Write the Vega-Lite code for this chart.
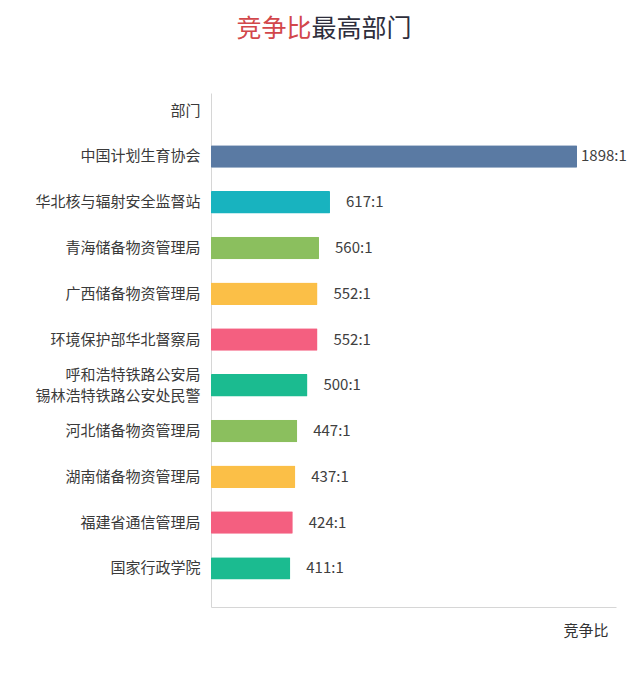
{
  "$schema": "https://vega.github.io/schema/vega-lite/v6.json",
  "autosize": {"type": "none"},
  "padding": {"left": 211, "top": 93, "right": 24, "bottom": 70},
  "width": 405,
  "height": 514,
  "background": "white",

  "data": {
    "values": [
      {"dept": "中国计划生育协会", "ratio": 1898},
      {"dept": "华北核与辐射安全监督站", "ratio": 617},
      {"dept": "青海储备物资管理局", "ratio": 560},
      {"dept": "广西储备物资管理局", "ratio": 552},
      {"dept": "环境保护部华北督察局", "ratio": 552},
      {"dept": "呼和浩特铁路公安局\n锡林浩特铁路公安处民警", "ratio": 500},
      {"dept": "河北储备物资管理局", "ratio": 447},
      {"dept": "湖南储备物资管理局", "ratio": 437},
      {"dept": "福建省通信管理局", "ratio": 424},
      {"dept": "国家行政学院", "ratio": 411}
    ]
  },

  "transform": [
    {"calculate": "datum.ratio + ':1'", "as": "label"}
  ],

  "encoding": {
    "y": {
      "field": "dept",
      "type": "nominal",
      "sort": null,
      "scale": {
        "domain": [
          "部门",
          "中国计划生育协会",
          "华北核与辐射安全监督站",
          "青海储备物资管理局",
          "广西储备物资管理局",
          "环境保护部华北督察局",
          "呼和浩特铁路公安局\n锡林浩特铁路公安处民警",
          "河北储备物资管理局",
          "湖南储备物资管理局",
          "福建省通信管理局",
          "国家行政学院"
        ],
        "paddingInner": 0.51,
        "paddingOuter": 0.37,
        "align": 0.19
      },
      "axis": {
        "title": null,
        "ticks": false,
        "labelExpr": "split(datum.label, '\\n')",
        "labelFont": "Noto Sans CJK SC",
        "labelFontSize": 15,
        "labelLineHeight": 21,
        "labelOffset": {
          "condition": {"test": "indexof(datum.value, '锡林') >= 0", "value": -10.5},
          "value": 0
        },
        "labelColor": "#3a3a3a",
        "labelPadding": 11,
        "domainColor": "#d6d6d6"
      }
    }
  },

  "layer": [
    {
      "mark": {"type": "bar", "cornerRadius": 1},
      "encoding": {
        "x": {
          "field": "ratio",
          "type": "quantitative",
          "scale": {"domain": [0, 2100], "nice": false},
          "axis": {
            "title": "竞争比",
            "titleFont": "Noto Sans CJK SC",
            "titleFontSize": 15,
            "titleFontWeight": "normal",
            "titleColor": "#333333",
            "titleAlign": "right",
            "titleAnchor": "end",
            "titleX": 397,
            "titleBaseline": "top",
            "titlePadding": 16,
            "labels": false,
            "ticks": false,
            "grid": false,
            "domainColor": "#d6d6d6"
          }
        },
        "color": {
          "field": "dept",
          "type": "nominal",
          "legend": null,
          "scale": {
            "domain": [
              "中国计划生育协会",
              "华北核与辐射安全监督站",
              "青海储备物资管理局",
              "广西储备物资管理局",
              "环境保护部华北督察局",
              "呼和浩特铁路公安局\n锡林浩特铁路公安处民警",
              "河北储备物资管理局",
              "湖南储备物资管理局",
              "福建省通信管理局",
              "国家行政学院"
            ],
            "range": [
              "#5a7aa3",
              "#18b3bf",
              "#8bbf5e",
              "#fbbf47",
              "#f45f80",
              "#1bbb90",
              "#8bbf5e",
              "#fbbf47",
              "#f45f80",
              "#1bbb90"
            ]
          }
        }
      }
    },
    {
      "transform": [{"filter": "datum.ratio > 1000"}],
      "mark": {"type": "text", "align": "left", "baseline": "middle", "dx": 4, "font": "Noto Sans CJK SC", "fontSize": 15, "color": "#404040"},
      "encoding": {
        "x": {
          "field": "ratio",
          "type": "quantitative",
          "axis": {
            "orient": "top",
            "domain": false,
            "labels": false,
            "ticks": false,
            "grid": false,
            "title": "竞争比",
            "titleFont": "Noto Sans CJK SC",
            "titleFontSize": 25,
            "titleFontWeight": "normal",
            "titleColor": "#d2474b",
            "titleAlign": "left",
            "titleBaseline": "middle",
            "titleX": 25,
            "titleY": -65
          }
        },
        "text": {"field": "label"}
      }
    },
    {
      "transform": [{"filter": "datum.ratio < 1000"}],
      "mark": {"type": "text", "align": "left", "baseline": "middle", "dx": 16, "font": "Noto Sans CJK SC", "fontSize": 15, "color": "#404040"},
      "encoding": {
        "x": {
          "field": "ratio",
          "type": "quantitative",
          "axis": {
            "orient": "top",
            "domain": false,
            "labels": false,
            "ticks": false,
            "grid": false,
            "title": "最高部门",
            "titleFont": "Noto Sans CJK SC",
            "titleFontSize": 25,
            "titleFontWeight": "normal",
            "titleColor": "#2e2e3c",
            "titleAlign": "left",
            "titleBaseline": "middle",
            "titleX": 100,
            "titleY": -65
          }
        },
        "text": {"field": "label"}
      }
    }
  ],

  "resolve": {"axis": {"x": "independent"}},

  "config": {
    "view": {"stroke": null}
  }
}
